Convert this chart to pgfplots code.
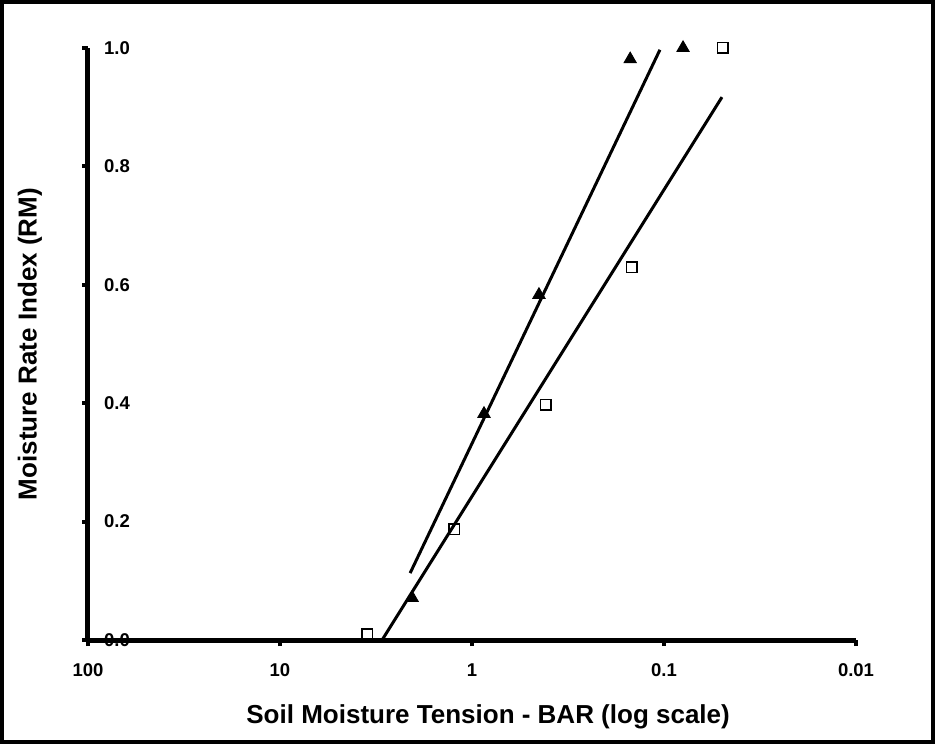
\documentclass[border=0pt]{standalone}
\usepackage{pgfplots}
\pgfplotsset{compat=1.18}
\usepackage{fontspec}
\setmainfont{Liberation Sans}
\begin{document}
\begin{tikzpicture}
\begin{axis}[
  at={(0,0)}, anchor=south west,
  scale only axis, width=384pt, height=296pt,
  xmode=log, x dir=reverse,
  xmin=0.01, xmax=100, ymin=0, ymax=1,
  axis x line*=bottom, axis y line*=left,
  axis line style={line width=2.5pt, black},
  xtick={0.01,0.1,1,10,100}, xticklabels={0.01,0.1,1,10,100},
  xminorticks=false, yminorticks=false,
  ytick={0,0.2,0.4,0.6,0.8,1.0},
  yticklabels={0.0,0.2,0.4,0.6,0.8,1.0},
  tick align=outside, major tick length=3pt,
  tick style={line width=2pt, black},
  /pgf/number format/assume math mode=true,
  ticklabel style={font=\bfseries\fontsize{9.25}{11}\selectfont},
  yticklabel style={anchor=west, xshift=7.5pt},
  xticklabel style={yshift=-5.5pt},
  xlabel={Soil Moisture Tension - BAR (log scale)},
  ylabel={Moisture Rate Index (RM)},
  label style={font=\bfseries\fontsize{13}{15}\selectfont},
  xlabel style={at={(axis description cs:0.521,-0.130)}, anchor=center},
  ylabel style={at={(axis description cs:-0.0755,0.5)}, anchor=center},
  clip=false,
]
\addplot[black, line width=1.5pt] coordinates {(2.10,0.113) (0.105,0.997)};
\addplot[black, line width=1.5pt] coordinates {(2.94,0) (0.0499,0.917)};
\addplot[only marks, mark=triangle*, mark size=3.6pt, black] coordinates {
 (2.05,0.071) (0.866,0.382) (0.448,0.583) (0.150,0.981) (0.0796,1.0)};
\addplot[only marks, mark=square, mark size=2.6pt, black, line width=0.7pt, mark options={fill=white}] coordinates {
 (3.52,0.01) (1.24,0.1875) (0.412,0.397) (0.147,0.63) (0.0495,1.0)};
\end{axis}
\draw[line width=2pt] (-43pt,-51pt) rectangle (422.5pt,319pt);
\end{tikzpicture}
\end{document}
